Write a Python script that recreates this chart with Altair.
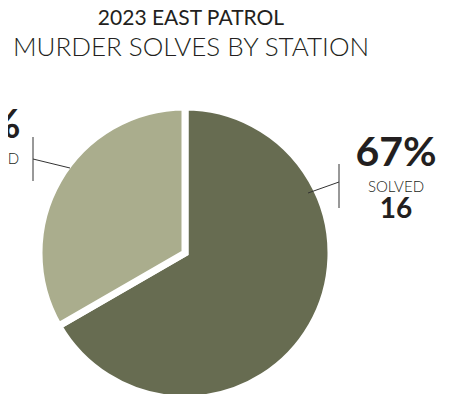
import altair as alt
import pandas as pd

# ---- data ----
title_line1 = "2023 EAST PATROL"
title_line2 = "MURDER SOLVES BY STATION"
statuses = ["SOLVED", "UNSOLVED"]
counts = [16, 8]
slice_colors = ["#676c51", "#aaad8d"]

total = sum(counts)
df = pd.DataFrame({
    "status": statuses,
    "count": counts,
    "pct": [f"{round(c / total * 100)}%" for c in counts],
    "num": [str(c) for c in counts],
    "order": list(range(len(statuses))),
})

FONT = "Lato"
INK = "#231f20"
W, H = 433, 386
CX, CY, R = 177, 245, 146

pie = alt.Chart(df).mark_arc(radius=R, stroke="white", strokeWidth=7).encode(
    theta=alt.Theta("count:Q", stack=True),
    color=alt.Color("status:N", scale=alt.Scale(domain=statuses, range=slice_colors), legend=None),
    order=alt.Order("order:Q"),
    x=alt.value(CX),
    y=alt.value(CY),
)


def label(status, cx, y_pct):
    base = alt.Chart(df).transform_filter(alt.datum.status == status)
    pct = base.mark_text(font=FONT, fontSize=41, fontWeight="bold", color=INK, align="center", baseline="alphabetic").encode(
        text="pct:N", x=alt.value(cx), y=alt.value(y_pct))
    name = base.mark_text(font=FONT, fontSize=15, fontWeight=300, color=INK, align="center", baseline="alphabetic").encode(
        text="status:N", x=alt.value(cx), y=alt.value(y_pct + 26))
    num = base.mark_text(font=FONT, fontSize=28, fontWeight="bold", color=INK, align="center", baseline="alphabetic").encode(
        text="num:N", x=alt.value(cx), y=alt.value(y_pct + 52))
    return [pct, name, num]


def seg(x1, y1, x2, y2):
    return alt.Chart(pd.DataFrame({"k": [0]})).mark_rule(color="#333333", strokeWidth=1).encode(
        x=alt.value(x1), y=alt.value(y1), x2=alt.value(x2), y2=alt.value(y2))


t1 = alt.Chart(pd.DataFrame({"t": [title_line1]})).mark_text(
    font=FONT, fontSize=21, fontWeight="normal", color=INK, align="center", baseline="alphabetic"
).encode(text="t:N", x=alt.value(183), y=alt.value(17))
t2 = alt.Chart(pd.DataFrame({"t": [title_line2]})).mark_text(
    font=FONT, fontSize=26, fontWeight=300, color=INK, align="center", baseline="alphabetic"
).encode(text="t:N", x=alt.value(183), y=alt.value(48))

layers = [pie, t1, t2]
layers += label("SOLVED", 388, 158)
layers += label("UNSOLVED", -28, 130)
layers += [
    seg(331, 156, 331, 200), seg(300, 185, 331, 174),
    seg(25, 129, 25, 173), seg(25, 151, 62, 160),
]

chart = alt.layer(*layers).properties(
    width=W, height=H, autosize=alt.AutoSizeParams(type="none"), padding=0
).configure_view(stroke=None)

chart.save("out.html", embed_options={"renderer": "svg", "actions": False})
